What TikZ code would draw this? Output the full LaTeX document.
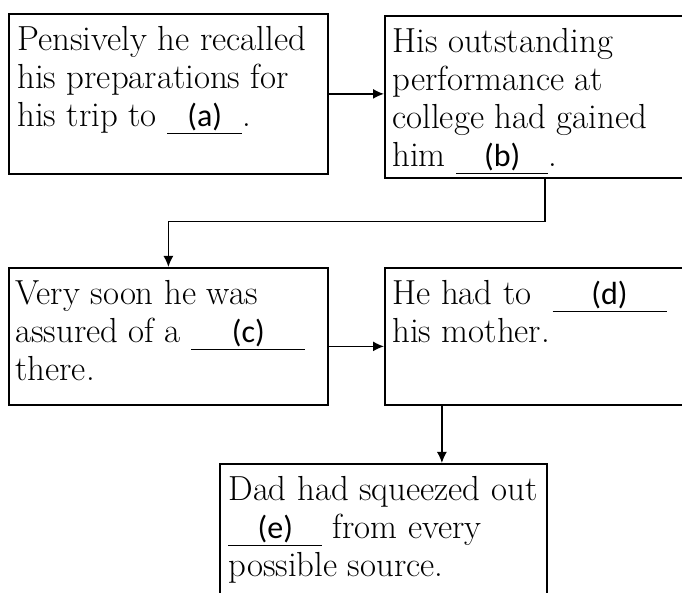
\documentclass[tikz,border=0pt]{standalone}
\usepackage{fontspec}
\newfontfamily\labelfont{Carlito}
\usepackage{tikz}
\usetikzlibrary{arrows.meta, positioning}
\tikzset{
    box/.style={draw, line width=0.9pt, anchor=north west, inner sep=0pt},
    boxtext/.style={anchor=north west, inner sep=0pt, align=left, font=\fontsize{17.4}{19}\selectfont},
    link/.style={->, >={Latex[length=5.5pt, width=5pt]}, line width=0.7pt}
}
\newcommand{\blank}[2]{\underline{\makebox[#1]{\labelfont\fontsize{16}{19}\selectfont #2}}}

\begin{document}
\begin{tikzpicture}[x=0.5pt, y=0.5pt]
    \clip (0,0) rectangle (682,593);
    % Boxes
    \node[box, minimum width=159.5pt, minimum height=80pt] (a) at (8,580) {};
    \node[box, minimum width=160pt, minimum height=81pt] (b) at (384,578) {};
    \node[box, minimum width=159.5pt, minimum height=68.5pt] (c) at (8,326) {};
    \node[box, minimum width=160pt, minimum height=68.5pt] (d) at (384,326) {};
    \node[box, minimum width=163.5pt, minimum height=75pt] (e) at (219,130) {};
    % Texts
    \node[boxtext, below right=5.2pt and 4.5pt of a.north west] (atext)
        {\strut Pensively he recalled\\ his preparations for\\ his trip to \blank{37.5pt}{(a)}.};
    \node[boxtext, below right=5.2pt and 4pt of b.north west] (btext)
        {\strut His outstanding\\ performance at\\ college had gained\\ him \blank{46pt}{(b)}.};
    \node[boxtext, below right=5.2pt and 3.5pt of c.north west] (ctext)
        {\strut Very soon he was\\ assured of a \blank{57pt}{(c)}\\ there.};
    \node[boxtext, below right=5.2pt and 4pt of d.north west] (dtext)
        {\strut He had to\ \ \blank{57pt}{(d)}\\ his mother.};
    \node[boxtext, below right=5.2pt and 4.5pt of e.north west] (etext)
        {\strut Dad had squeezed out\\ \blank{47pt}{(e)} from every\\ possible source.};
    % Connectors
    \draw[link] (a.east) -- (a.east -| b.west);
    \draw[link] (b.south) -- ++(0,-43) -| (c.north);
    \draw[link] ([yshift=-5pt]c.east) -- ([yshift=-5pt]c.east -| d.west);
    \draw[link] ([xshift=-51.5pt]d.south) -- ([xshift=-51.5pt]d.south |- e.north);
\end{tikzpicture}
\end{document}
